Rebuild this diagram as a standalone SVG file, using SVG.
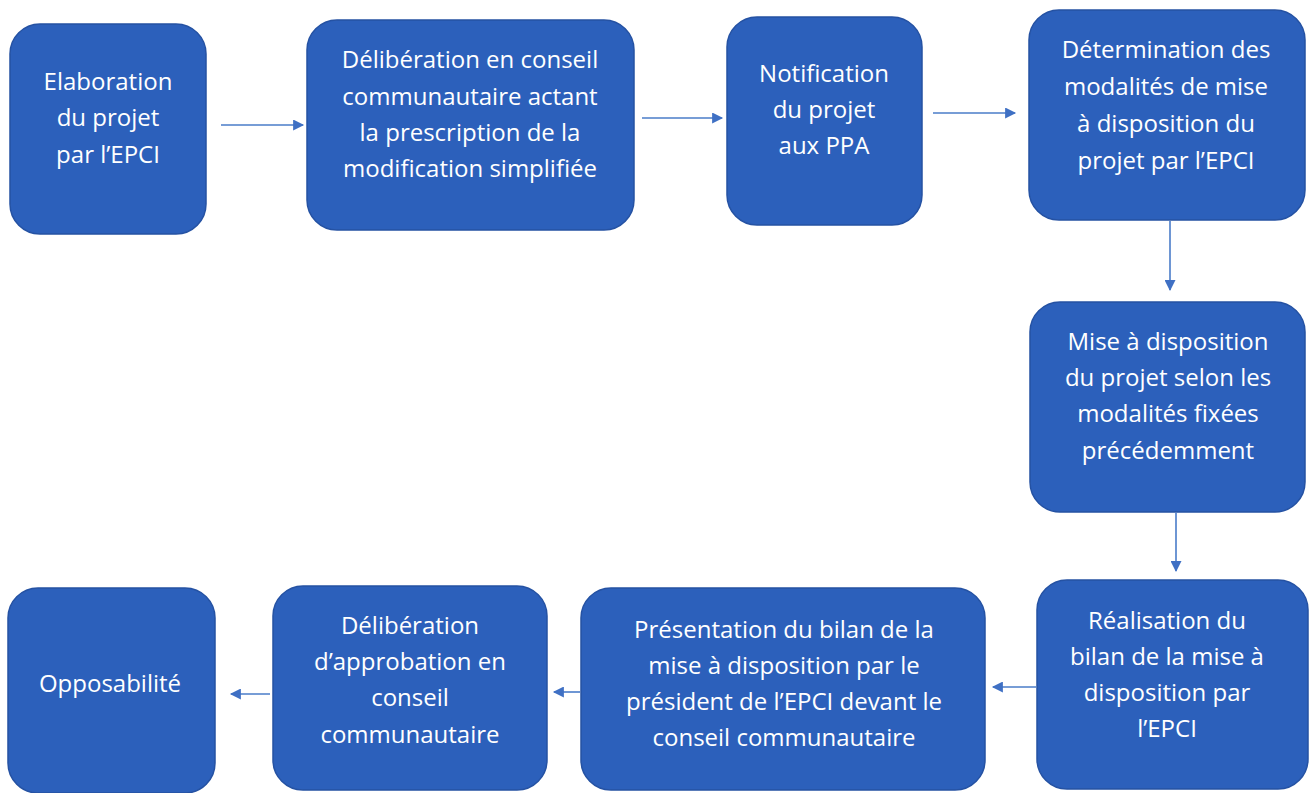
<svg xmlns="http://www.w3.org/2000/svg" width="1311" height="793" viewBox="0 0 1311 793">
<defs>
<style>
.box{fill:#2C60BB;stroke:#2552A3;stroke-width:1.5}
.t{font-family:"Open Sans",Lato,"Liberation Sans",sans-serif;font-size:24px;fill:#ffffff;text-anchor:middle}
.c{stroke:#4A7CC9;stroke-width:1.6;fill:none;marker-end:url(#ah)}
</style>
<marker id="ah" viewBox="0 0 10 10" refX="9" refY="5" markerWidth="12" markerHeight="11" markerUnits="userSpaceOnUse" orient="auto">
<path d="M0,0 L10,5 L0,10 z" fill="#3F70C4"/>
</marker>
</defs>
<rect width="1311" height="793" fill="#ffffff"/>
<g id="connectors">
<line class="c" x1="221" y1="125" x2="303" y2="125"/>
<line class="c" x1="642" y1="118" x2="722" y2="118"/>
<line class="c" x1="933" y1="113" x2="1015" y2="113"/>
<line class="c" x1="1170" y1="221" x2="1170" y2="290"/>
<line class="c" x1="1176" y1="513" x2="1176" y2="571"/>
<line class="c" x1="1036" y1="687" x2="993" y2="687"/>
<line class="c" x1="580" y1="692" x2="554" y2="692"/>
<line class="c" x1="270" y1="694" x2="231" y2="694"/>
</g>
<g id="n1">
<rect class="box" x="10" y="24" width="196" height="210" rx="30"/>
<text class="t" x="108" y="90">Elaboration</text>
<text class="t" x="108" y="126">du projet</text>
<text class="t" x="108" y="163">par l’EPCI</text>
</g>
<g id="n2">
<rect class="box" x="307" y="20" width="327" height="210" rx="30"/>
<text class="t" x="470" y="68">Délibération en conseil</text>
<text class="t" x="470" y="105">communautaire actant</text>
<text class="t" x="470" y="141">la prescription de la</text>
<text class="t" x="470" y="177">modification simplifiée</text>
</g>
<g id="n3">
<rect class="box" x="727" y="17" width="195" height="208" rx="30"/>
<text class="t" x="824" y="82">Notification</text>
<text class="t" x="824" y="118">du projet</text>
<text class="t" x="824" y="154">aux PPA</text>
</g>
<g id="n4">
<rect class="box" x="1029" y="10" width="276" height="210" rx="30"/>
<text class="t" x="1166" y="58">Détermination des</text>
<text class="t" x="1166" y="95">modalités de mise</text>
<text class="t" x="1166" y="132">à disposition du</text>
<text class="t" x="1166" y="169">projet par l’EPCI</text>
</g>
<g id="n5">
<rect class="box" x="1030" y="302" width="275" height="210" rx="30"/>
<text class="t" x="1168" y="350">Mise à disposition</text>
<text class="t" x="1168" y="386">du projet selon les</text>
<text class="t" x="1168" y="422">modalités fixées</text>
<text class="t" x="1168" y="459">précédemment</text>
</g>
<g id="n6">
<rect class="box" x="1037" y="580" width="271" height="209" rx="30"/>
<text class="t" x="1167" y="629">Réalisation du</text>
<text class="t" x="1167" y="665">bilan de la mise à</text>
<text class="t" x="1167" y="701">disposition par</text>
<text class="t" x="1167" y="737">l’EPCI</text>
</g>
<g id="n7">
<rect class="box" x="581" y="588" width="404" height="202" rx="30"/>
<text class="t" x="784" y="638">Présentation du bilan de la</text>
<text class="t" x="784" y="674">mise à disposition par le</text>
<text class="t" x="784" y="710">président de l’EPCI devant le</text>
<text class="t" x="784" y="746">conseil communautaire</text>
</g>
<g id="n8">
<rect class="box" x="273" y="586" width="274" height="204" rx="30"/>
<text class="t" x="410" y="634">Délibération</text>
<text class="t" x="410" y="670">d’approbation en</text>
<text class="t" x="410" y="706">conseil</text>
<text class="t" x="410" y="743">communautaire</text>
</g>
<g id="n9">
<rect class="box" x="8" y="588" width="207" height="205" rx="30"/>
<text class="t" x="110" y="692">Opposabilité</text>
</g>
</svg>
